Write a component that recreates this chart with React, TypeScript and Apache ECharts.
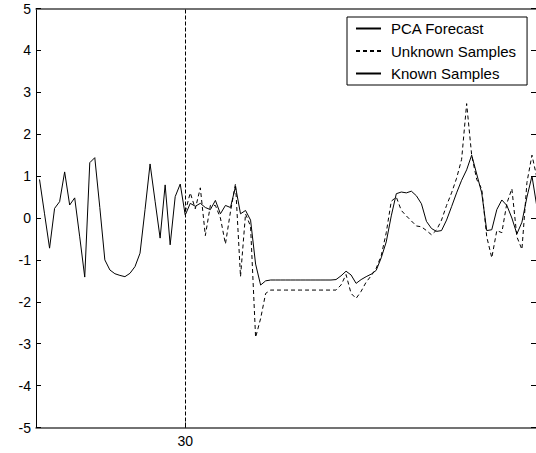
import React, { useEffect, useRef } from "react";
import * as echarts from "echarts";

// Known samples, x = 1..30
const knownStart = 1;
const knownValues = [
  0.92, 0.1, -0.72, 0.23, 0.39, 1.1, 0.31, 0.48, -0.45, -1.41,
  1.32, 1.44, 0.25, -1.0, -1.24, -1.33, -1.37, -1.4, -1.32, -1.16,
  -0.84, 0.2, 1.29, 0.4, -0.48, 0.79, -0.64, 0.51, 0.81, 0.07,
];

// PCA forecast, x = 30..100
const forecastStart = 30;
const forecastValues = [
  0.07, 0.35, 0.28, 0.35, 0.25, 0.2, 0.42, 0.1, 0.3, 0.25,
  0.75, 0.1, 0.18, -0.05, -1.1, -1.6, -1.5, -1.48, -1.48, -1.48,
  -1.48, -1.48, -1.48, -1.48, -1.48, -1.48, -1.48, -1.48, -1.48, -1.48,
  -1.47, -1.38, -1.27, -1.36, -1.56, -1.47, -1.4, -1.34, -1.25, -0.95,
  -0.57, 0.05, 0.58, 0.62, 0.6, 0.64, 0.53, 0.34, -0.08, -0.25,
  -0.32, -0.3, -0.05, 0.27, 0.6, 0.9, 1.15, 1.5, 1.05, 0.6,
  -0.3, -0.28, 0.2, 0.43, 0.3, 0.0, -0.38, -0.1, 0.5, 1.0,
  0.25,
];

// Unknown samples, x = 30..100
const unknownStart = 30;
const unknownValues = [
  0.15, 0.6, 0.22, 0.72, -0.42, 0.3, 0.3, 0.0, -0.62, 0.15,
  0.82, -1.4, 0.1, -0.2, -2.85, -2.4, -1.8, -1.72, -1.72, -1.72,
  -1.72, -1.72, -1.72, -1.72, -1.72, -1.72, -1.72, -1.72, -1.72, -1.72,
  -1.72, -1.6, -1.35, -1.8, -1.92, -1.75, -1.53, -1.38, -1.2, -0.9,
  -0.35, 0.4, 0.5, 0.18, 0.05, -0.07, -0.19, -0.21, -0.3, -0.4,
  -0.29, -0.05, 0.3, 0.6, 0.95, 1.4, 2.73, 1.5, 0.92, 0.7,
  -0.45, -0.95, -0.3, -0.35, 0.35, 0.7, -0.45, -0.75, 0.85, 1.5,
  0.95,
];

const yTicks = [-5, -4, -3, -2, -1, 0, 1, 2, 3, 4, 5];
const xTickLabels = [30];
const dividerX = 30;
const xMin = 0.3;
const xMax = 100;

const toPairs = (start: number, vals: number[]) => vals.map((v, i) => [start + i, v]);

const FONT = "'Liberation Sans', Arial, sans-serif";

export default function App() {
  const ref = useRef<HTMLDivElement>(null);
  useEffect(() => {
    if (!ref.current) return;
    const chart = echarts.init(ref.current, undefined, { renderer: "svg" });
    chart.setOption({
      animation: false,
      backgroundColor: "#fff",
      textStyle: { fontFamily: FONT },
      grid: {
        left: 36,
        right: 3,
        top: 8.5,
        bottom: 25.5,
        show: false,
      },
      legend: {
        orient: "vertical",
        left: 347,
        top: 17,
        padding: [4, 11, 4, 8],
        itemGap: 7.5,
        itemWidth: 25,
        itemHeight: 14,
        borderColor: "#000",
        borderWidth: 1,
        backgroundColor: "#fff",
        borderRadius: 0,
        itemStyle: { opacity: 0 },
        textStyle: { fontSize: 15, color: "#000", fontFamily: FONT, padding: [0, 0, 0, 5] },
        data: ["PCA Forecast", "Unknown Samples", "Known Samples"],
      },
      xAxis: [
        {
          type: "value",
          min: xMin,
          max: xMax,
          position: "bottom",
          axisLine: { show: true, onZero: false, lineStyle: { color: "#444", width: 1.5 } },
          axisTick: { show: true, inside: true, length: 5, customValues: xTickLabels, lineStyle: { color: "#000" } },
          axisLabel: { show: true, customValues: xTickLabels, fontSize: 14, color: "#000", margin: 6, fontFamily: FONT },
          splitLine: { show: false },
        },
        {
          type: "value",
          min: xMin,
          max: xMax,
          position: "top",
          axisLine: { show: true, onZero: false, lineStyle: { color: "#444", width: 1.5 } },
          axisTick: { show: false },
          axisLabel: { show: false },
          splitLine: { show: false },
        },
      ],
      yAxis: [
        {
          type: "value",
          min: yTicks[0],
          max: yTicks[yTicks.length - 1],
          interval: 1,
          position: "left",
          axisLine: { show: true, onZero: false, lineStyle: { color: "#000", width: 1 } },
          axisTick: { show: true, inside: true, length: 5, lineStyle: { color: "#000" } },
          axisLabel: { show: true, fontSize: 14, color: "#000", margin: 5, fontFamily: FONT },
          splitLine: { show: false },
        },
        {
          type: "value",
          min: yTicks[0],
          max: yTicks[yTicks.length - 1],
          interval: 1,
          position: "right",
          axisLine: { show: true, onZero: false, lineStyle: { color: "#000", width: 1 } },
          axisTick: { show: true, inside: true, length: 6, lineStyle: { color: "#000" } },
          axisLabel: { show: false },
          splitLine: { show: false },
        },
      ],
      series: [
        {
          name: "PCA Forecast",
          type: "line",
          data: toPairs(forecastStart, forecastValues),
          symbol: "none",
          lineStyle: { color: "#000", width: 1, type: "solid" },
          itemStyle: { color: "#000" },
          z: 3,
        },
        {
          name: "Unknown Samples",
          type: "line",
          data: toPairs(unknownStart, unknownValues),
          symbol: "none",
          lineStyle: { color: "#000", width: 1, type: [4, 3] },
          itemStyle: { color: "#000" },
          z: 2,
        },
        {
          name: "Known Samples",
          type: "line",
          data: toPairs(knownStart, knownValues),
          symbol: "none",
          lineStyle: { color: "#000", width: 1, type: "solid" },
          itemStyle: { color: "#000" },
          z: 3,
          markLine: {
            silent: true,
            symbol: ["none", "none"],
            label: { show: false },
            lineStyle: { color: "#000", width: 1, type: [4, 2] },
            data: [{ xAxis: dividerX }],
          },
        },
      ],
    });
    return () => chart.dispose();
  }, []);
  return (
    <div style={{ position: "absolute", left: 0, top: 0, width: 536, height: 453, overflow: "hidden" }}>
      <div ref={ref} style={{ width: 540, height: 453 }} />
    </div>
  );
}
